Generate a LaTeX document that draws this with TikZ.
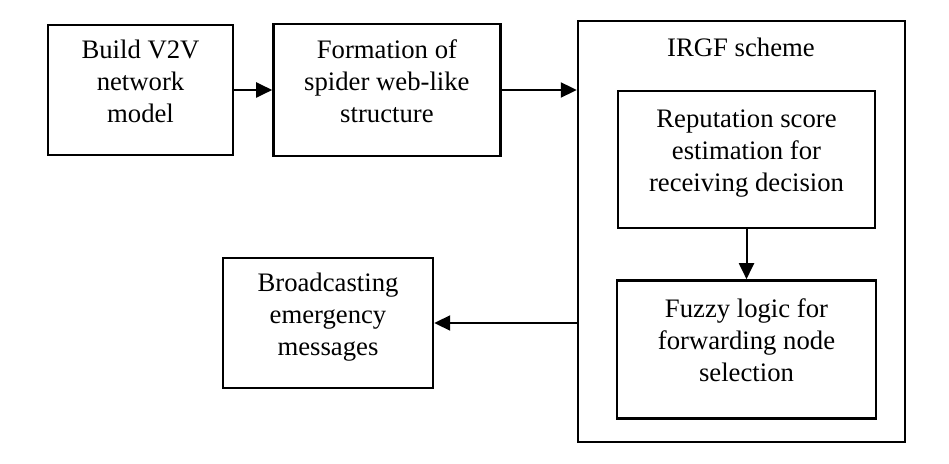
\documentclass[tikz,border=0pt]{standalone}
\usepackage{fontspec}
\setmainfont{Liberation Serif}
\usetikzlibrary{arrows.meta, positioning}

\begin{document}
\begin{tikzpicture}[
  x=1pt, y=1pt,
  box/.style={draw, line width=2.4pt, align=center, inner sep=0pt,
              font=\fontsize{26.7}{32}\selectfont, text depth=18pt},
  flow/.style={-{Triangle[length=16pt, width=15pt]}, line width=2pt},
  lab/.style={font=\fontsize{26.7}{32}\selectfont}
]
\useasboundingbox (0,0) rectangle (949,463);

\node[box, minimum width=185pt, minimum height=130pt] (model) at (140.5,373) {Build V2V\\network\\model};
\node[box, minimum width=227pt, minimum height=132pt, right=38pt of model] (spider) {Formation of\\spider web-like\\structure};

% outer frame of the scheme with its two steps inside
\node[draw, line width=2.4pt, minimum width=327pt, minimum height=421pt] (irgf) at (741.5,231.5) {};
\node[lab] (irgflab) at (741,416) {IRGF scheme};
\node[box, minimum width=257pt, minimum height=137pt] (rep) at (746.5,303.5) {Reputation score\\estimation for\\receiving decision};
\node[box, minimum width=259pt, minimum height=138pt, below=50pt of rep] (fuzzy) {Fuzzy logic for\\forwarding node\\selection};

\node[box, minimum width=210pt, minimum height=130pt] (bcast) at (328,140) {Broadcasting\\emergency\\messages};

\draw[flow] (model) -- (spider);
\draw[flow] (spider.east) -- (spider.east -| irgf.west);
\draw[flow] (rep) -- (fuzzy);
\draw[flow] (bcast.east -| irgf.west) -- (bcast.east);

\end{tikzpicture}
\end{document}
